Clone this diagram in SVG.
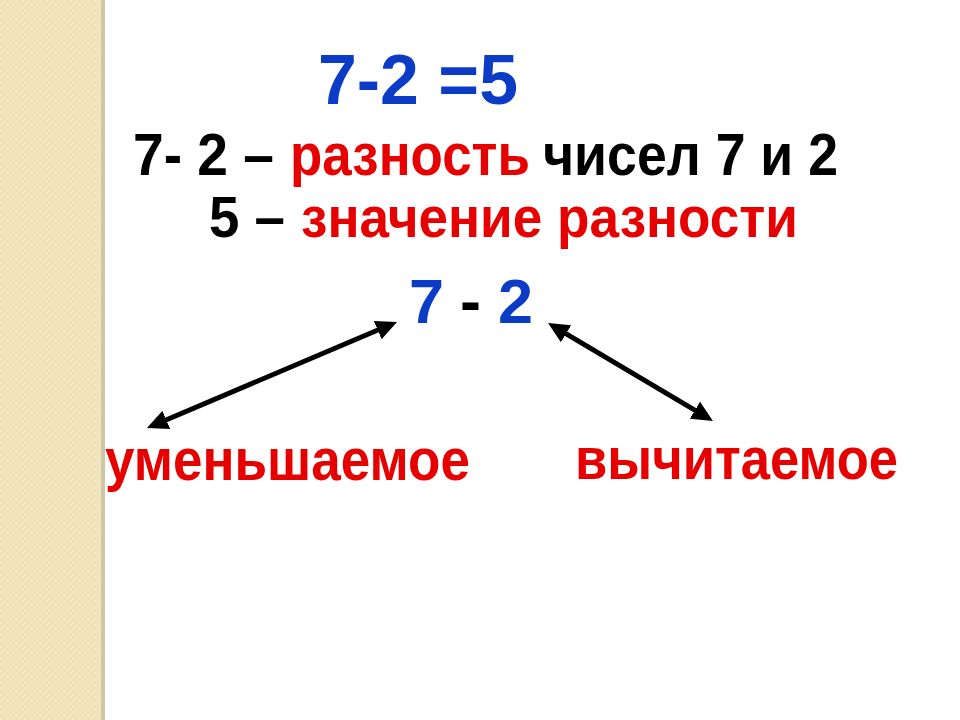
<svg xmlns="http://www.w3.org/2000/svg" width="960" height="720" viewBox="0 0 960 720">
<defs>
<style>
text{font-family:"Liberation Sans",Arial,sans-serif;font-weight:bold}
.blue{fill:#0c3cc6}.red{fill:#e60000}.blk{fill:#000}
.conn{stroke:#000;stroke-width:5;fill:none;marker-start:url(#ah);marker-end:url(#ah)}
</style>
<marker id="ah" markerUnits="userSpaceOnUse" markerWidth="24" markerHeight="22" refX="15" refY="10" orient="auto-start-reverse">
<path d="M0,0 L21,10 L0,20 z" fill="#000"/>
</marker>
<pattern id="tex" width="6" height="6" patternUnits="userSpaceOnUse">
<rect width="6" height="6" fill="#f3e7c1"/>
<rect width="3" height="3" fill="#f0e2b8"/>
<rect x="3" y="3" width="3" height="3" fill="#f0e2b8"/>
</pattern>
</defs>
<rect width="960" height="720" fill="#fff"/>
<g id="strip">
<rect x="0" y="0" width="102" height="720" fill="url(#tex)"/>
<rect x="101" y="0" width="4" height="720" fill="#cfc7a6"/>
</g>
<g id="equation"><text x="318" y="104" font-size="71" textLength="200" lengthAdjust="spacingAndGlyphs" class="blue">7-2 =5</text></g>
<g id="line-difference">
<text x="133" y="175" font-size="60" textLength="141" lengthAdjust="spacingAndGlyphs" class="blk">7- 2 –</text>
<text x="290" y="175" font-size="60" textLength="240" lengthAdjust="spacingAndGlyphs" class="red">разность</text>
<text x="543" y="175" font-size="60" textLength="295" lengthAdjust="spacingAndGlyphs" class="blk">чисел 7 и 2</text>
</g>
<g id="line-value">
<text x="209" y="237" font-size="57" textLength="76" lengthAdjust="spacingAndGlyphs" class="blk">5 –</text>
<text x="301" y="237" font-size="57" textLength="497" lengthAdjust="spacingAndGlyphs" class="red">значение разности</text>
</g>
<g id="expr">
<text x="409" y="323" font-size="63" class="blue">7</text>
<text x="460" y="323" font-size="63" class="blk">-</text>
<text x="498" y="323" font-size="63" class="blue">2</text>
</g>
<g id="minuend"><text x="105" y="480" font-size="60" textLength="365" lengthAdjust="spacingAndGlyphs" class="red">уменьшаемое</text></g>
<g id="subtrahend"><text x="575" y="479" font-size="60" textLength="323" lengthAdjust="spacingAndGlyphs" class="red">вычитаемое</text></g>
<g id="connectors">
<line class="conn" x1="152.5" y1="425.7" x2="391.5" y2="324.3"/>
<line class="conn" x1="553.2" y1="326.1" x2="707.8" y2="417.9"/>
</g>
</svg>
